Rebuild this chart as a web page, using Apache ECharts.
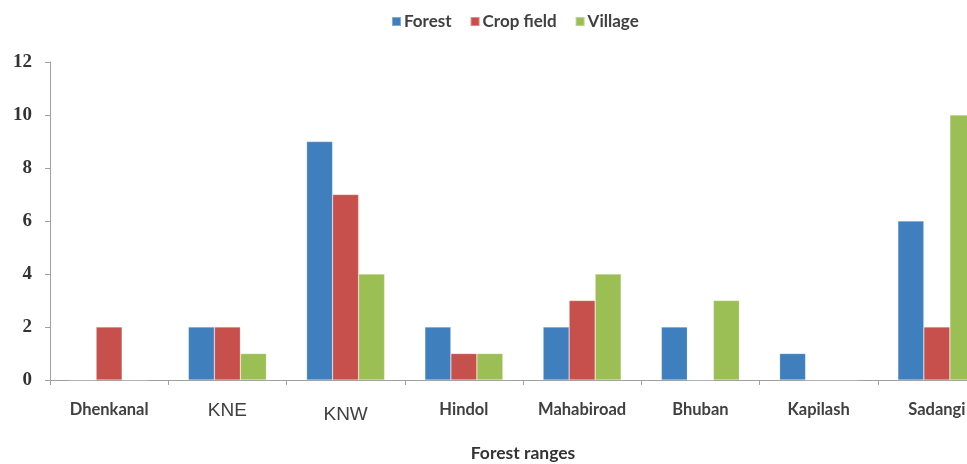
<!DOCTYPE html>
<html>
<head>
<meta charset="utf-8">
<script src="https://cdn.jsdelivr.net/npm/echarts@6/dist/echarts.min.js"></script>
<style>
  html, body { margin: 0; padding: 0; background: #fff; }
  #chart { width: 967px; height: 464px; }
</style>
</head>
<body>
<div id="chart"></div>
<script>
// Forest ranges along the x axis
const categories = ['Dhenkanal', 'KNE', 'KNW', 'Hindol', 'Mahabiroad', 'Bhuban', 'Kapilash', 'Sadangi'];
// Counts per habitat type
const forest    = [0, 2, 9, 2, 2, 2, 1, 6];
const cropField = [2, 2, 7, 1, 3, 0, 0, 2];
const village   = [0, 1, 4, 1, 4, 3, 0, 10];
// Value axis tick range
const yTicks = [0, 2, 4, 6, 8, 10, 12];

const chart = echarts.init(document.getElementById('chart'));

// Some range names are set in a plain sans face, the rest in bold
function labelStyle(name) {
  if (name === 'KNE') return 'plain';
  if (name === 'KNW') return 'plainLow';
  return 'bold';
}

const barSeries = (name, data, color) => ({
  name: name,
  type: 'bar',
  data: data,
  barGap: '0%',
  barCategoryGap: '34%',
  itemStyle: { color: color, borderColor: 'rgba(255,255,255,0.35)', borderWidth: 0.6 }
});

chart.setOption({
  animation: false,
  backgroundColor: '#ffffff',
  legend: {
    top: 8,
    left: 386,
    icon: 'rect',
    itemWidth: 9,
    itemHeight: 9,
    itemGap: 18,
    textStyle: { fontFamily: 'Lato', fontWeight: 'bold', fontSize: 17, color: '#404040', padding: [0, 0, 0, -2] },
    data: ['Forest', 'Crop field', 'Village']
  },
  // the plot runs past the right edge, so the last range is cut off
  grid: { left: 50, top: 62, width: 946, bottom: 84, outerBoundsMode: 'none', containLabel: false },
  xAxis: {
    type: 'category',
    data: categories,
    name: 'Forest ranges',
    nameLocation: 'middle',
    nameGap: 64,
    nameTextStyle: { fontFamily: 'Lato', fontWeight: 'bold', fontSize: 17.5, color: '#333333' },
    axisLine: { lineStyle: { color: '#a0a0a0', width: 1 } },
    axisTick: { show: true, length: 5, lineStyle: { color: '#a0a0a0' } },
    axisLabel: {
      margin: 21,
      interval: 0,
      formatter: v => '{' + labelStyle(v) + '|' + v + '}',
      rich: {
        bold: { fontFamily: 'Lato', fontWeight: 'bold', fontSize: 16.5, color: '#404040' },
        plain: { fontFamily: 'Liberation Sans', fontSize: 19, color: '#404040' },
        plainLow: { fontFamily: 'Liberation Sans', fontSize: 19, color: '#404040', padding: [4, 0, 0, 0] }
      }
    }
  },
  yAxis: {
    type: 'value',
    min: yTicks[0],
    max: yTicks[yTicks.length - 1],
    interval: yTicks[1] - yTicks[0],
    splitLine: { show: false },
    axisLine: { show: true, lineStyle: { color: '#a0a0a0', width: 1 } },
    axisTick: { show: true, length: 5, lineStyle: { color: '#a0a0a0' } },
    axisLabel: {
      margin: 18,
      fontFamily: 'Liberation Serif',
      fontWeight: 'bold',
      fontSize: 19,
      color: '#333333'
    }
  },
  series: [
    barSeries('Forest', forest, '#3f7fbe'),
    barSeries('Crop field', cropField, '#c8504c'),
    barSeries('Village', village, '#9bbf55')
  ]
});
</script>
</body>
</html>
